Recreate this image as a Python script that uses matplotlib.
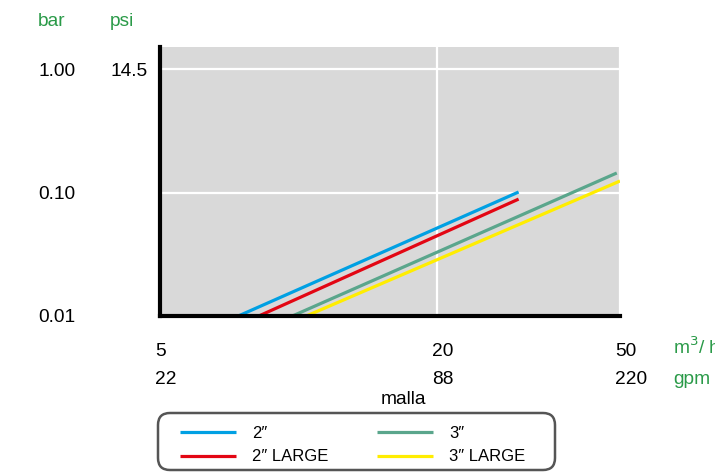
import matplotlib
matplotlib.use('Agg')
import matplotlib.pyplot as plt
import matplotlib.patches as mpatches
from matplotlib.transforms import blended_transform_factory, offset_copy, IdentityTransform

plt.rcParams['font.family'] = ['Liberation Sans', 'DejaVu Sans']

# ejes: caudal (m3/h, gpm) y perdida de carga (bar, psi)
x_ticks = [5, 20, 50]
x_labels_m3h = ['5', '20', '50']
x_labels_gpm = ['22', '88', '220']
y_ticks = [0.01, 0.1, 1.0]
y_labels_bar = ['0.01', '0.10', '1.00']
y_labels_psi = ['', '', '14.5']

# curvas (caudal m3/h, perdida bar)
q_2 = [7.4, 30.1]
dp_2 = [0.01, 0.101]
q_2L = [8.2, 30.1]
dp_2L = [0.01, 0.0885]
q_3 = [9.7, 49.2]
dp_3 = [0.01, 0.144]
q_3L = [10.4, 50.0]
dp_3L = [0.01, 0.124]
labels = ['2\u2033', '2\u2033 LARGE', '3\u2033', '3\u2033 LARGE']
colors = ['#00a0e3', '#e30613', '#5aa68c', '#ffed00']

green_txt = '#2a9a48'
W, H = 715, 472
fig = plt.figure(figsize=(W / 100, H / 100), dpi=100)
ax = fig.add_axes([160 / W, (H - 316) / H, 460 / W, 269 / H])
ax.set_facecolor('#d9d9d9')
ax.set_xscale('log')
ax.set_yscale('log')
ax.set_xlim(5, 50)
ax.set_ylim(0.01, 1.51)

for s in ['top', 'right']:
    ax.spines[s].set_visible(False)
for s in ['left', 'bottom']:
    ax.spines[s].set_linewidth(3)
    ax.spines[s].set_color('black')
    ax.spines[s].set_zorder(5)

ax.set_xticks(x_ticks)
ax.set_yticks(y_ticks)
ax.set_xticks([5], minor=True)
ax.set_yticks([0.01], minor=True)
ax.set_xticklabels([])
ax.set_yticklabels([])
ax.set_xticklabels([], minor=True)
ax.set_yticklabels([], minor=True)
ax.tick_params(which='major', length=0)
ax.tick_params(which='minor', direction='out', width=3, color='black')
ax.tick_params(axis='x', which='minor', length=7)
ax.tick_params(axis='y', which='minor', length=4)
ax.grid(True, which='major', color='white', linewidth=1.6)
ax.set_axisbelow(True)

series = [(q_2, dp_2), (q_2L, dp_2L), (q_3, dp_3), (q_3L, dp_3L)]
for (q, dp), lab, c in zip(series, labels, colors):
    ax.plot(q, dp, color=c, linewidth=2.3, label=lab, solid_capstyle='butt', zorder=3)

fs = 13.8
# etiquetas eje y (bar, psi)
ty = blended_transform_factory(fig.transFigure, ax.transData)
for v, lb, lp in zip(y_ticks, y_labels_bar, y_labels_psi):
    ax.text(38 / W, v, lb, transform=ty, ha='left', va='center_baseline', fontsize=fs)
    ax.text(110 / W, v, lp, transform=ty, ha='left', va='center_baseline', fontsize=fs)
fig.text(38 / W, 1 - 22 / H, 'bar', color=green_txt, fontsize=fs, ha='left', va='center')
fig.text(110 / W, 1 - 22 / H, 'psi', color=green_txt, fontsize=fs, ha='left', va='center')

# etiquetas eje x (m3/h, gpm)
tx = blended_transform_factory(ax.transData, fig.transFigure)
tx = offset_copy(tx, fig=fig, x=-5, units='dots')
for v, lm, lg in zip(x_ticks, x_labels_m3h, x_labels_gpm):
    ax.text(v, 1 - 351 / H, lm, transform=tx, ha='left', va='center', fontsize=fs)
    ax.text(v, 1 - 379 / H, lg, transform=tx, ha='left', va='center', fontsize=fs)
fig.text(673 / W, 1 - 347 / H, 'm$^3$/ h', color=green_txt, fontsize=fs, ha='left', va='center')
fig.text(673 / W, 1 - 379 / H, 'gpm', color=green_txt, fontsize=fs, ha='left', va='center')
fig.text(403 / W, 1 - 400 / H, 'malla', fontsize=fs, ha='center', va='center')

# caja de la leyenda (en pixeles)
box = mpatches.FancyBboxPatch((158, H - 470), 397, 57,
                              boxstyle='round,pad=0,rounding_size=12',
                              facecolor='white', edgecolor='#555555',
                              linewidth=1.8, transform=IdentityTransform())
fig.add_artist(box)

leg = fig.legend(loc='upper left', ncol=2,
                 bbox_to_anchor=(180 / W, 1 - 426 / H),
                 borderaxespad=0, borderpad=0, fontsize=12, handlelength=3.35,
                 handletextpad=0.95, labelspacing=0.5, columnspacing=2.95,
                 frameon=False)
for ln in leg.get_lines():
    ln.set_linewidth(2.3)

fig.savefig('out.png', dpi=100)
